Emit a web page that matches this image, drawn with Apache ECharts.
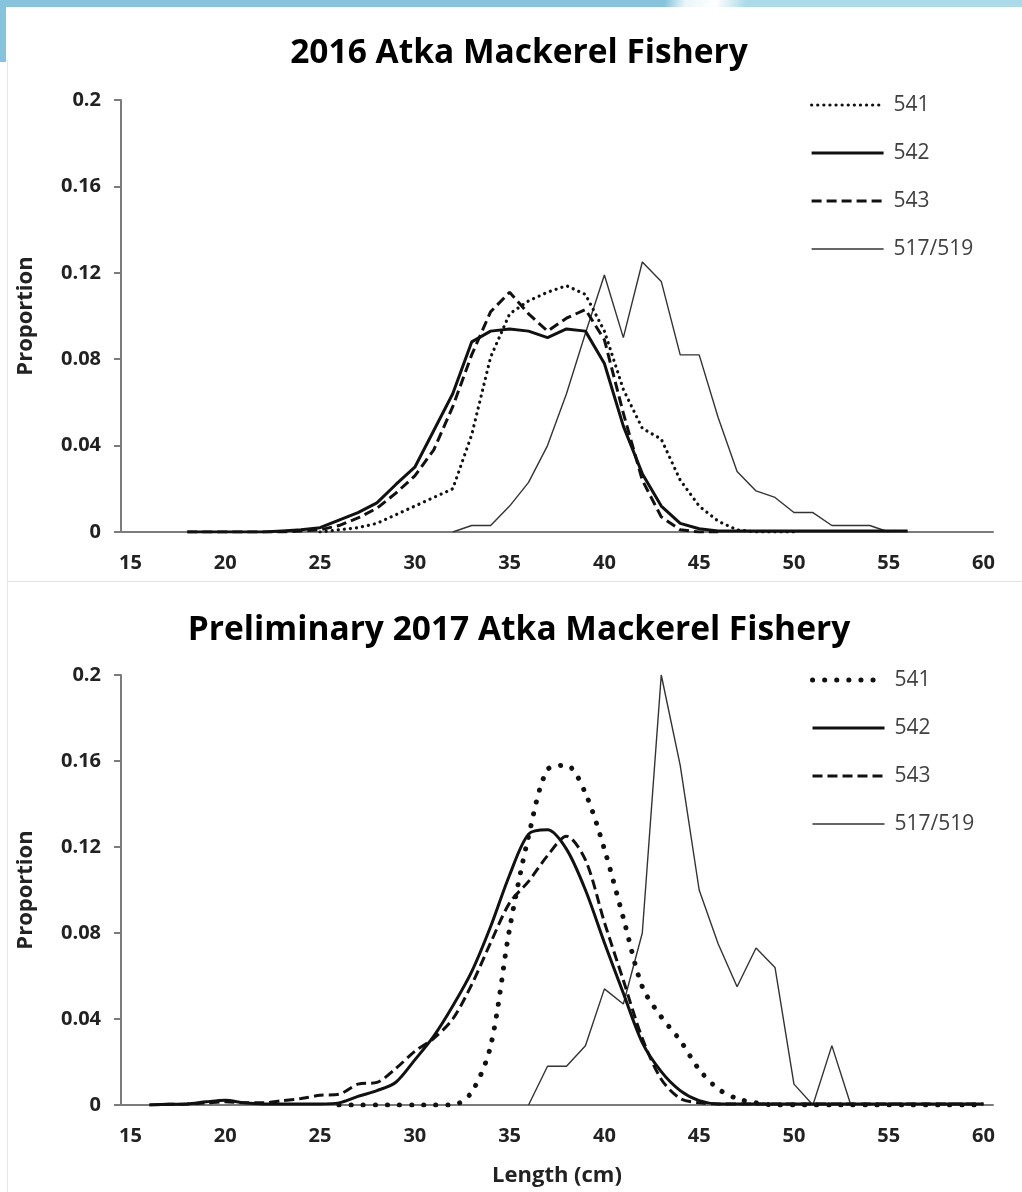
<!DOCTYPE html>
<html>
<head>
<meta charset="utf-8">
<script src="https://cdn.jsdelivr.net/npm/echarts@6/dist/echarts.min.js"></script>
<style>
  body { margin: 0; background: #fff; width: 1022px; height: 1192px; overflow: hidden; position: relative; }
  #top { position: absolute; left: 0; top: 0; width: 1022px; height: 580px; }
  #bottom { position: absolute; left: 0; top: 580px; width: 1022px; height: 612px; }
  .sep { position: absolute; left: 8px; top: 581px; width: 1014px; height: 1px; background: #e4e4e4; }
  .edge { position: absolute; left: 7px; top: 60px; width: 1px; height: 1132px; background: #e2e8ec; }
  .band { position: absolute; left: 0; top: 0; width: 1022px; height: 7px;
          background: linear-gradient(100deg, #84c4dc 0%, #84c4dc 65%, #e9f6fa 67%, #ffffff 70%, #a9dbe8 73%, #a9dbe8 100%); }
  .side { position: absolute; left: 0; top: 0; width: 6px; height: 62px; background: #84c4dc; }
</style>
</head>
<body>
<div class="band"></div>
<div class="side"></div>
<div class="edge"></div>
<div id="top"></div>
<div class="sep"></div>
<div id="bottom"></div>
<script>
// length classes (cm)
const lengths = ['15','16','17','18','19','20','21','22','23','24','25','26','27','28','29','30',
  '31','32','33','34','35','36','37','38','39','40','41','42','43','44','45','46','47','48','49','50',
  '51','52','53','54','55','56','57','58','59','60'];
const legendNames = ['541', '542', '543', '517/519'];

// 2016 fishery
const a541_2016 = [null,null,null,null,null,null,null,null,null,null,
  0,0.001,0.002,0.004,0.008,0.012,0.016,0.020,0.045,0.081,0.101,0.107,0.111,0.114,0.110,0.093,
  0.066,0.048,0.043,0.024,0.012,0.005,0.001,0,0,0,
  null,null,null,null,null,null,null,null,null,null];
const a542_2016 = [null,null,null,
  0,0,0,0,0,0.0005,0.001,0.002,0.0055,0.009,0.0135,0.022,0.030,0.047,0.064,0.088,0.093,0.094,
  0.093,0.090,0.094,0.093,0.078,0.049,0.027,0.012,0.004,0.0015,0.0005,
  0.0005,0.0005,0.0005,0.0005,0.0005,0.0005,0.0005,0.0005,0.0005,0.0005,
  null,null,null,null];
const a543_2016 = [null,null,null,
  0,0,0,0,0,0,0.0005,0.001,0.003,0.0065,0.011,0.018,0.026,0.038,0.058,0.082,0.102,0.111,
  0.101,0.093,0.099,0.103,0.089,0.055,0.024,0.007,0.001,0,0,
  null,null,null,null,null,null,null,null,null,null,null,null,null,null];
const a517_2016 = [null,null,null,null,null,null,null,null,null,null,null,null,null,null,null,null,null,
  0,0.003,0.003,0.012,0.023,0.040,0.064,0.092,0.119,0.090,0.125,0.116,0.082,0.082,0.053,0.028,
  0.019,0.016,0.009,0.009,0.003,0.003,0.003,0,
  null,null,null,null,null];

// preliminary 2017 fishery
const a541_2017 = [null,null,null,null,null,null,null,null,null,null,null,
  0,0,0,0,0,0,0,0.006,0.0275,0.082,0.125,0.156,0.158,0.145,0.119,0.087,0.055,0.041,0.030,
  0.0165,0.0075,0.003,0.001,0,0,0,0,0,0,0,0,0,0,0,0];
const a542_2017 = [null,
  0,0.0003,0.0005,0.0015,0.0022,0.001,0.0005,0.0005,0.0005,0.0005,0.001,0.004,0.0067,0.0106,
  0.021,0.032,0.046,0.062,0.083,0.107,0.126,0.128,0.119,0.100,0.0755,0.052,0.029,0.0155,0.0067,0.002,
  0.0005,0.0005,0.0005,0.0005,0.0005,0.0005,0.0005,0.0005,0.0005,0.0005,0.0005,0.0005,0.0005,0.0005,0.0005];
const a543_2017 = [null,
  0,0.0003,0.0005,0.001,0.0015,0.001,0.001,0.002,0.003,0.0045,0.005,0.0097,0.0105,0.017,
  0.025,0.031,0.040,0.056,0.0755,0.094,0.104,0.116,0.125,0.114,0.085,0.058,0.031,0.012,0.003,0.001,
  0.0005,0.0005,0.0005,0.0005,0.0005,0.0005,0.0005,0.0005,0.0005,0.0005,0.0005,0.0005,0.0005,0.0005,0.0005];
const a517_2017 = [null,null,null,null,null,null,null,null,null,null,null,null,null,null,null,null,null,null,null,null,null,
  0,0.018,0.018,0.0276,0.054,0.047,0.080,0.200,0.158,0.100,0.075,0.055,0.073,0.064,0.0097,0,0.0276,0,
  null,null,null,null,null,null,null];

const FONT = "'Open Sans', 'Noto Sans', sans-serif";
const AXIS = '#7c7c7c';

function buildOption(cfg) {
  const dotted = { color: '#111', width: cfg.dotW, type: cfg.dotDash, cap: 'round' };
  return {
    animation: false,
    backgroundColor: 'transparent',
    title: {
      text: cfg.title, left: 514, textAlign: 'center', top: cfg.titleTop,
      textStyle: { fontFamily: FONT, fontSize: 33.5, fontWeight: 'bold', color: '#000' }
    },
    legend: {
      orient: 'vertical', left: 805, top: cfg.legendTop,
      itemWidth: 72, itemHeight: 22, itemGap: 26,
      data: legendNames,
      itemStyle: { opacity: 0 },
      lineStyle: { width: 'inherit', type: 'inherit', cap: 'inherit' },
      textStyle: { fontFamily: FONT, fontSize: 21, color: '#404040', lineHeight: 22, padding: [0, 0, 0, 5] }
    },
    grid: { left: 121, right: 29, top: cfg.gridTop, bottom: cfg.gridBottom },
    xAxis: {
      type: 'category', data: lengths, boundaryGap: true,
      name: cfg.xName, nameLocation: 'middle', nameGap: 60,
      nameTextStyle: { fontFamily: FONT, fontSize: 22, fontWeight: 'bold', color: '#222' },
      axisLine: { lineStyle: { color: AXIS, width: 2 } },
      axisTick: { interval: 4, length: 7, lineStyle: { color: AXIS, width: 2 } },
      axisLabel: { interval: 4, margin: 21, fontFamily: FONT, fontSize: 20, fontWeight: 'bold', color: '#222' },
      splitLine: { show: false }
    },
    yAxis: {
      type: 'value', min: 0, max: 0.2, interval: 0.04,
      name: 'Proportion', nameLocation: 'middle', nameGap: 84,
      nameTextStyle: { fontFamily: FONT, fontSize: 22, fontWeight: 'bold', color: '#222' },
      axisLine: { show: true, lineStyle: { color: AXIS, width: 2 } },
      axisTick: { show: true, length: 7, lineStyle: { color: AXIS, width: 2 } },
      axisLabel: { margin: 20, fontFamily: FONT, fontSize: 20, fontWeight: 'bold', color: '#222' },
      splitLine: { show: false }
    },
    series: [
      { name: '517/519', type: 'line', data: cfg.d517, symbol: 'none',
        lineStyle: { color: '#333', width: 1.4 } },
      { name: '541', type: 'line', data: cfg.d541, symbol: 'none', smooth: cfg.smooth,
        lineStyle: dotted },
      { name: '543', type: 'line', data: cfg.d543, symbol: 'none', smooth: cfg.smooth,
        lineStyle: { color: '#111', width: 3, type: [10, 5] } },
      { name: '542', type: 'line', data: cfg.d542, symbol: 'none', smooth: cfg.smooth,
        lineStyle: { color: '#111', width: 3 } }
    ]
  };
}

const topChart = echarts.init(document.getElementById('top'));
topChart.setOption(buildOption({
  title: '2016 Atka Mackerel Fishery', titleTop: 31,
  legendTop: 89, gridTop: 100, gridBottom: 48, xName: '',
  d541: a541_2016, d542: a542_2016, d543: a543_2016, d517: a517_2016,
  dotW: 3.2, dotDash: [0.1, 6], smooth: false
}));

const bottomChart = echarts.init(document.getElementById('bottom'));
bottomChart.setOption(buildOption({
  title: 'Preliminary 2017 Atka Mackerel Fishery', titleTop: 28,
  legendTop: 84, gridTop: 95, gridBottom: 86, xName: 'Length (cm)',
  d541: a541_2017, d542: a542_2017, d543: a543_2017, d517: a517_2017,
  dotW: 5, dotDash: [0.1, 12], smooth: 0.3
}));
</script>
</body>
</html>
